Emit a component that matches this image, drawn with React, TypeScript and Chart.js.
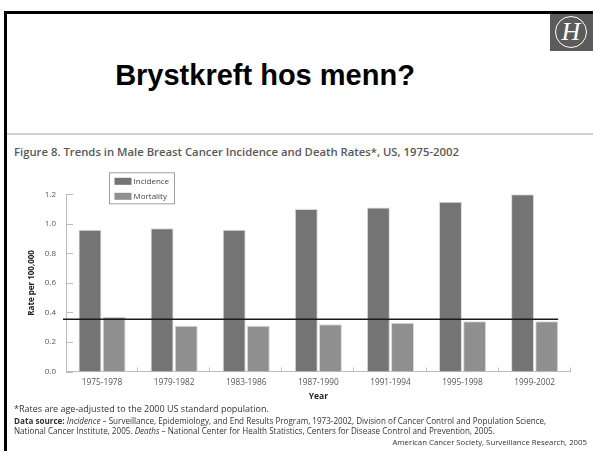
import React, { useEffect, useRef } from "react";
import { Chart, registerables } from "chart.js";

Chart.register(...registerables);

const categories = ["1975-1978", "1979-1982", "1983-1986", "1987-1990", "1991-1994", "1995-1998", "1999-2002"];
const incidence = [0.96, 0.97, 0.96, 1.10, 1.11, 1.15, 1.20];
const mortality = [0.37, 0.31, 0.31, 0.32, 0.33, 0.34, 0.34];
const REF_LINE = 0.353;
const yTicks = [0, 0.2, 0.4, 0.6, 0.8, 1.0, 1.2];

const FONT = "'Open Sans', 'DejaVu Sans', sans-serif";

const decorPlugin = {
  id: "decor",
  afterDatasetsDraw(chart: any) {
    const { ctx, chartArea, scales } = chart;
    const y = scales.y;
    const x = scales.x;
    ctx.save();
    ctx.strokeStyle = "#bdbdbd";
    ctx.lineWidth = 1;
    y.ticks.forEach((_t: any, i: number) => {
      const py = Math.round(y.getPixelForTick(i)) + 0.5;
      ctx.beginPath();
      ctx.moveTo(chartArea.left, py);
      ctx.lineTo(chartArea.left + 7, py);
      ctx.stroke();
    });
    const n = x.ticks.length;
    const w = (x.right - x.left) / n;
    for (let i = 1; i <= n; i++) {
      const px = Math.round(x.left + i * w) - 0.5;
      ctx.beginPath();
      ctx.moveTo(px, chartArea.bottom);
      ctx.lineTo(px, chartArea.bottom - 4);
      ctx.stroke();
    }
    const meta = chart.getDatasetMeta(1);
    const last = meta.data[meta.data.length - 1] as any;
    const ry = y.getPixelForValue(REF_LINE);
    ctx.strokeStyle = "#1a1a1a";
    ctx.lineWidth = 1.5;
    ctx.beginPath();
    ctx.moveTo(chartArea.left - 3, ry);
    ctx.lineTo(last.x + last.width / 2, ry);
    ctx.stroke();
    const bx = chartArea.left + 43.5;
    const by = chartArea.top - 21.5;
    const bw = 65;
    const bh = 31;
    ctx.fillStyle = "#ffffff";
    ctx.fillRect(bx, by, bw, bh);
    ctx.strokeStyle = "#a0a0a0";
    ctx.lineWidth = 1;
    ctx.strokeRect(bx, by, bw, bh);
    ctx.font = `8px ${FONT}`;
    ctx.textBaseline = "middle";
    chart.data.datasets.forEach((ds: any, i: number) => {
      const sy = by + 5 + i * 15;
      ctx.fillStyle = ds.backgroundColor;
      ctx.fillRect(bx + 5, sy, 17, 7);
      ctx.fillStyle = "#444";
      ctx.fillText(ds.label, bx + 24, sy + 4);
    });
    ctx.restore();
  },
};

export default function App() {
  const ref = useRef<HTMLCanvasElement>(null);
  useEffect(() => {
    if (!ref.current) return;
    const chart = new Chart(ref.current, {
      type: "bar",
      data: {
        labels: categories,
        datasets: [
          {
            label: "Incidence",
            data: incidence,
            backgroundColor: "#747474",
            borderColor: "#d9d9d9",
            borderWidth: 1,
            barPercentage: 0.95,
            categoryPercentage: 0.67,
          },
          {
            label: "Mortality",
            data: mortality,
            backgroundColor: "#8f8f8f",
            borderColor: "#d9d9d9",
            borderWidth: 1,
            barPercentage: 0.95,
            categoryPercentage: 0.67,
          },
        ],
      },
      options: {
        responsive: false,
        animation: false,
        devicePixelRatio: 1,
        layout: { padding: { left: 0, right: 22.3, top: 34.3, bottom: 0 } },
        plugins: { legend: { display: false }, tooltip: { enabled: false } },
        font: { family: FONT },
        scales: {
          x: {
            grid: { display: false, drawTicks: false },
            border: { display: true, color: "#bdbdbd" },
            ticks: { color: "#555", font: { size: 8.3, family: FONT }, padding: 6, maxRotation: 0 },
            title: {
              display: true,
              text: "Year",
              color: "#222",
              font: { size: 8.5, weight: "bold", family: FONT },
              padding: { top: 0, bottom: 3.7 },
            },
            afterFit: (s: any) => {
              s.height = 33.5;
            },
          },
          y: {
            min: 0,
            max: 1.2,
            afterBuildTicks: (s: any) => {
              s.ticks = yTicks.map((v) => ({ value: v }));
            },
            grid: { display: false, drawTicks: false },
            border: { display: true, color: "#bdbdbd" },
            ticks: {
              color: "#555",
              font: { size: 8, family: FONT },
              padding: 10,
              callback: (v: any) => Number(v).toFixed(1),
            },
            title: {
              display: true,
              text: "Rate per 100,000",
              color: "#222",
              font: { size: 8, weight: "bold", family: FONT },
              padding: { top: 27, bottom: 0 },
            },
            afterFit: (s: any) => {
              s.width = 66;
            },
          },
        },
      },
      plugins: [decorPlugin],
    } as any);
    return () => chart.destroy();
  }, []);

  const abs = (o: any): React.CSSProperties => ({ position: "absolute", ...o });

  return (
    <div style={{ position: "fixed", left: 0, top: 0, width: 593, height: 451, background: "#fff", overflow: "hidden", fontFamily: FONT }}>
      <div style={abs({ left: 4, top: 11, width: 620, height: 460, borderTop: "3px solid #000", borderLeft: "3px solid #000", boxSizing: "border-box" })} />
      <div style={abs({ left: 550, top: 14, width: 43, height: 37, background: "#5b5b5b" })}>
        <div style={abs({ left: 5, top: 2, width: 32, height: 32, borderRadius: "50%", border: "1px solid #fff", boxSizing: "border-box" })} />
        <div style={abs({ left: 6, top: 2, width: 30, textAlign: "center", color: "#fff", fontFamily: "'Liberation Serif', 'DejaVu Serif', serif", fontStyle: "italic", fontSize: 26, lineHeight: "32px" })}>H</div>
      </div>
      <div style={abs({ left: 0, top: 61, width: 530, textAlign: "center", fontFamily: "'Liberation Sans', Arial, sans-serif", fontWeight: "bold", fontSize: 29, lineHeight: "29px", color: "#000", whiteSpace: "nowrap" })}>
        Brystkreft hos menn?
      </div>
      <div style={abs({ left: 7, top: 133, width: 590, height: 2, background: "#d0d0d0" })} />
      <div style={abs({ left: 14, top: 145, fontSize: 11.3, lineHeight: "13px", fontWeight: 600, color: "#585858", whiteSpace: "nowrap" })}>
        Figure 8. Trends in Male Breast Cancer Incidence and Death Rates*, US, 1975-2002
      </div>
      <canvas ref={ref} width={593} height={245} style={abs({ left: 0, top: 160, width: 593, height: 245 })} />
      <div style={abs({ left: 14, top: 402.5, fontSize: 9, lineHeight: "11px", color: "#333", whiteSpace: "nowrap" })}>
        *Rates are age-adjusted to the 2000 US standard population.
      </div>
      <div style={abs({ left: 14, top: 415.5, fontSize: 8.1, lineHeight: "10.5px", color: "#333", whiteSpace: "nowrap" })}>
        <b>Data source:</b> <i>Incidence</i> – Surveillance, Epidemiology, and End Results Program, 1973-2002, Division of Cancer Control and Population Science,
        <br />
        National Cancer Institute, 2005. <i>Deaths</i> – National Center for Health Statistics, Centers for Disease Control and Prevention, 2005.
      </div>
      <div style={abs({ right: 6, top: 437, fontSize: 7.8, lineHeight: "10px", color: "#333", whiteSpace: "nowrap", textAlign: "right" })}>
        American Cancer Society, Surveillance Research, 2005
      </div>
    </div>
  );
}
